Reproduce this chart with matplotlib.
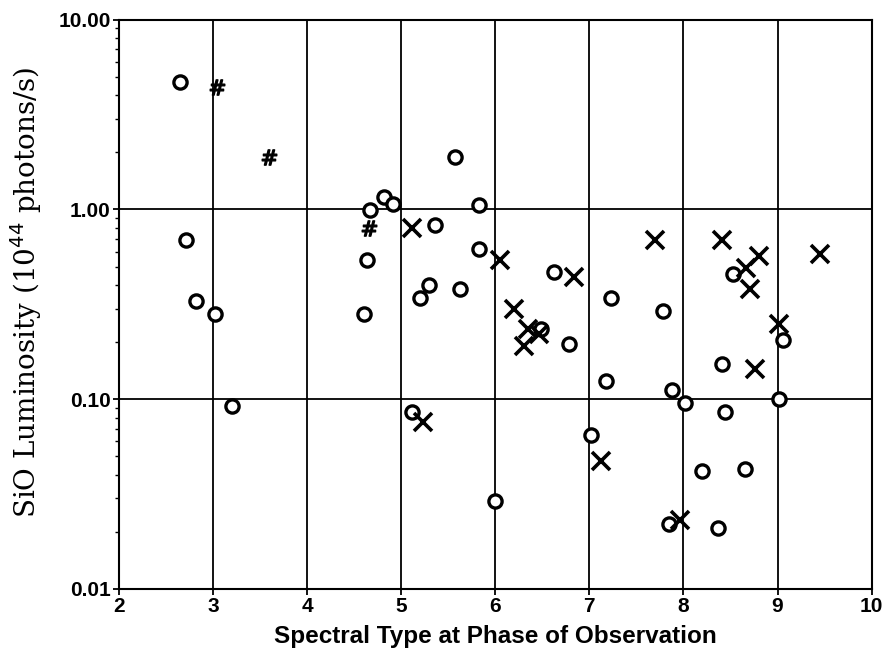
import numpy as np
import matplotlib.pyplot as plt
from matplotlib.ticker import LogLocator, NullFormatter, FixedFormatter, FixedLocator

# open circles
circ_x = [2.65, 2.71, 2.82, 3.02, 3.2, 4.61, 4.64, 4.67, 4.82, 4.91, 5.11, 5.2, 5.3,
          5.36, 5.57, 5.63, 5.83, 5.83, 6.0, 6.49, 6.62, 6.78, 7.02, 7.18, 7.23,
          7.78, 7.85, 7.88, 8.02, 8.2, 8.37, 8.41, 8.44, 8.53, 8.65, 9.02, 9.06]
circ_y = [4.7, 0.69, 0.33, 0.28, 0.092, 0.28, 0.54, 0.99, 1.17, 1.07, 0.086, 0.34, 0.40,
          0.83, 1.9, 0.38, 1.05, 0.62, 0.029, 0.235, 0.47, 0.196, 0.065, 0.124, 0.34,
          0.29, 0.022, 0.112, 0.096, 0.042, 0.021, 0.154, 0.086, 0.455, 0.043, 0.1, 0.206]

# crosses
cross_x = [5.11, 5.23, 6.05, 6.2, 6.31, 6.35, 6.46, 6.84, 7.12, 7.7, 7.96, 8.41,
           8.66, 8.71, 8.76, 8.8, 9.02, 9.45]
cross_y = [0.8, 0.076, 0.54, 0.30, 0.19, 0.235, 0.22, 0.44, 0.047, 0.69, 0.023, 0.69,
           0.49, 0.38, 0.145, 0.57, 0.25, 0.58]

# hash symbols
hash_x = [3.04, 3.59, 4.66]
hash_y = [4.4, 1.9, 0.8]

fig = plt.figure(figsize=(8.94, 6.58), dpi=100)
ax = fig.add_axes([0.133, 0.105, 0.842, 0.865])

ax.plot(circ_x, circ_y, 'o', mfc='white', mec='black', mew=2.4, ms=9.5, ls='none')
ax.plot(cross_x, cross_y, 'x', color='black', mew=2.6, ms=13, ls='none')
ax.plot(hash_x, hash_y, ls='none', marker=r'$\#$', color='black', ms=11)

ax.set_yscale('log')
ax.set_xlim(2, 10)
ax.set_ylim(0.01, 10)

ax.set_xticks(np.arange(2, 11, 1))
ax.yaxis.set_major_locator(FixedLocator([0.01, 0.1, 1, 10]))
ax.yaxis.set_major_formatter(FixedFormatter(['0.01', '0.10', '1.00', '10.00']))
ax.yaxis.set_minor_locator(LogLocator(base=10, subs=np.arange(2, 10)))
ax.yaxis.set_minor_formatter(NullFormatter())

ax.grid(True, which='major', color='black', lw=1.3)
for s in ax.spines.values():
    s.set_linewidth(1.5)

ax.tick_params(which='major', direction='out', length=4, width=1.3, pad=2)
ax.tick_params(axis='x', labelsize=15)
ax.tick_params(axis='y', labelsize=15)
ax.tick_params(which='minor', direction='out', length=3, width=1.0)
for lab in ax.get_xticklabels() + ax.get_yticklabels():
    lab.set_fontweight('bold')
    lab.set_family('Liberation Sans')

ax.set_xlabel('Spectral Type at Phase of Observation', fontsize=17.5, fontweight='bold',
              family='Liberation Sans', labelpad=6)
ax.set_ylabel('SiO Luminosity (10$^{44}$ photons/s)', fontsize=20, family='DejaVu Serif')
ax.yaxis.set_label_coords(-0.1, 0.522)

fig.savefig('out.png', dpi=100)
